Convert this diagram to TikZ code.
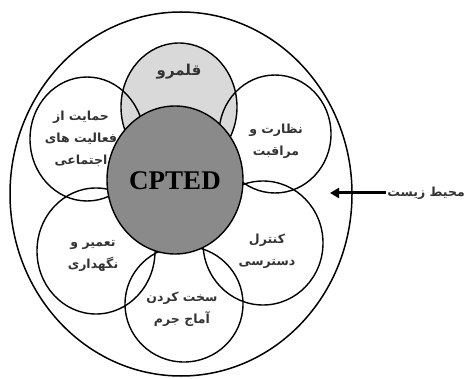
\documentclass[tikz,border=0pt]{standalone}
\usepackage{fontspec}
\setmainfont{Liberation Serif}
\newfontfamily\arabicfont[Script=Arabic]{DejaVu Sans}
\TeXXeTstate=1
\usetikzlibrary{arrows.meta}
\definecolor{lightfill}{HTML}{D9D9D9}
\definecolor{darkfill}{HTML}{8A8A8A}
\tikzset{
  petal/.style={draw=black, line width=1.4pt},
  lbl/.style={font=\arabicfont\bfseries\fontsize{12.5}{22}\selectfont, align=center, text=black!80},
}
\newcommand{\rl}[1]{\beginR #1\endR}
\begin{document}
\begin{tikzpicture}[x=1pt,y=-1pt]
\useasboundingbox (0,0) rectangle (465,379);
% top petal fill
\fill[lightfill] (179,107) ellipse [x radius=58, y radius=64];
% petals outlines
\draw[petal] (87,139) ellipse [x radius=57, y radius=62];
\draw[petal] (275,134) ellipse [x radius=56, y radius=59];
\draw[petal] (96,251) ellipse [x radius=59, y radius=63];
\draw[petal] (263,243) ellipse [x radius=60, y radius=62];
\draw[petal] (184,304) ellipse [x radius=59, y radius=58];
\draw[petal] (179,107) ellipse [x radius=58, y radius=64];
% outer environment
\draw[line width=1.5pt] (181,194) ellipse [x radius=171, y radius=182];
% labels
\node[lbl, font=\arabicfont\bfseries\fontsize{15}{16}\selectfont] (terr) at (179,72) {\rl{قلمرو}};
\node[lbl] (surv) at (276,141) {\rl{نظارت و}\\\rl{مراقبت}};
\node[lbl] (supp) at (81,139) {\rl{حمایت از}\\\rl{فعالیت های}\\\rl{اجتماعی}};
\node[lbl] (maint) at (93,256) {\rl{تعمیر و}\\\rl{نگهداری}};
\node[lbl] (acc) at (267,251) {\rl{کنترل}\\\rl{دسترسی}};
\node[lbl] (hard) at (182,309) {\rl{سخت کردن}\\\rl{آماج جرم}};
% center (drawn over the labels, as in the original)
\draw[petal, fill=darkfill] (175,180) ellipse [x radius=68, y radius=74];
\node (center) at (175,181) {\fontsize{27}{30}\selectfont\bfseries CPTED};
\node[lbl, anchor=east, inner sep=1pt] (env) at (466,193) {\rl{محیط زیست}};
\coordinate (tip) at (330,193);
\draw[line width=3pt, -{Triangle[length=9pt,width=10pt]}] (env.west) -- (tip);
\end{tikzpicture}
\end{document}
